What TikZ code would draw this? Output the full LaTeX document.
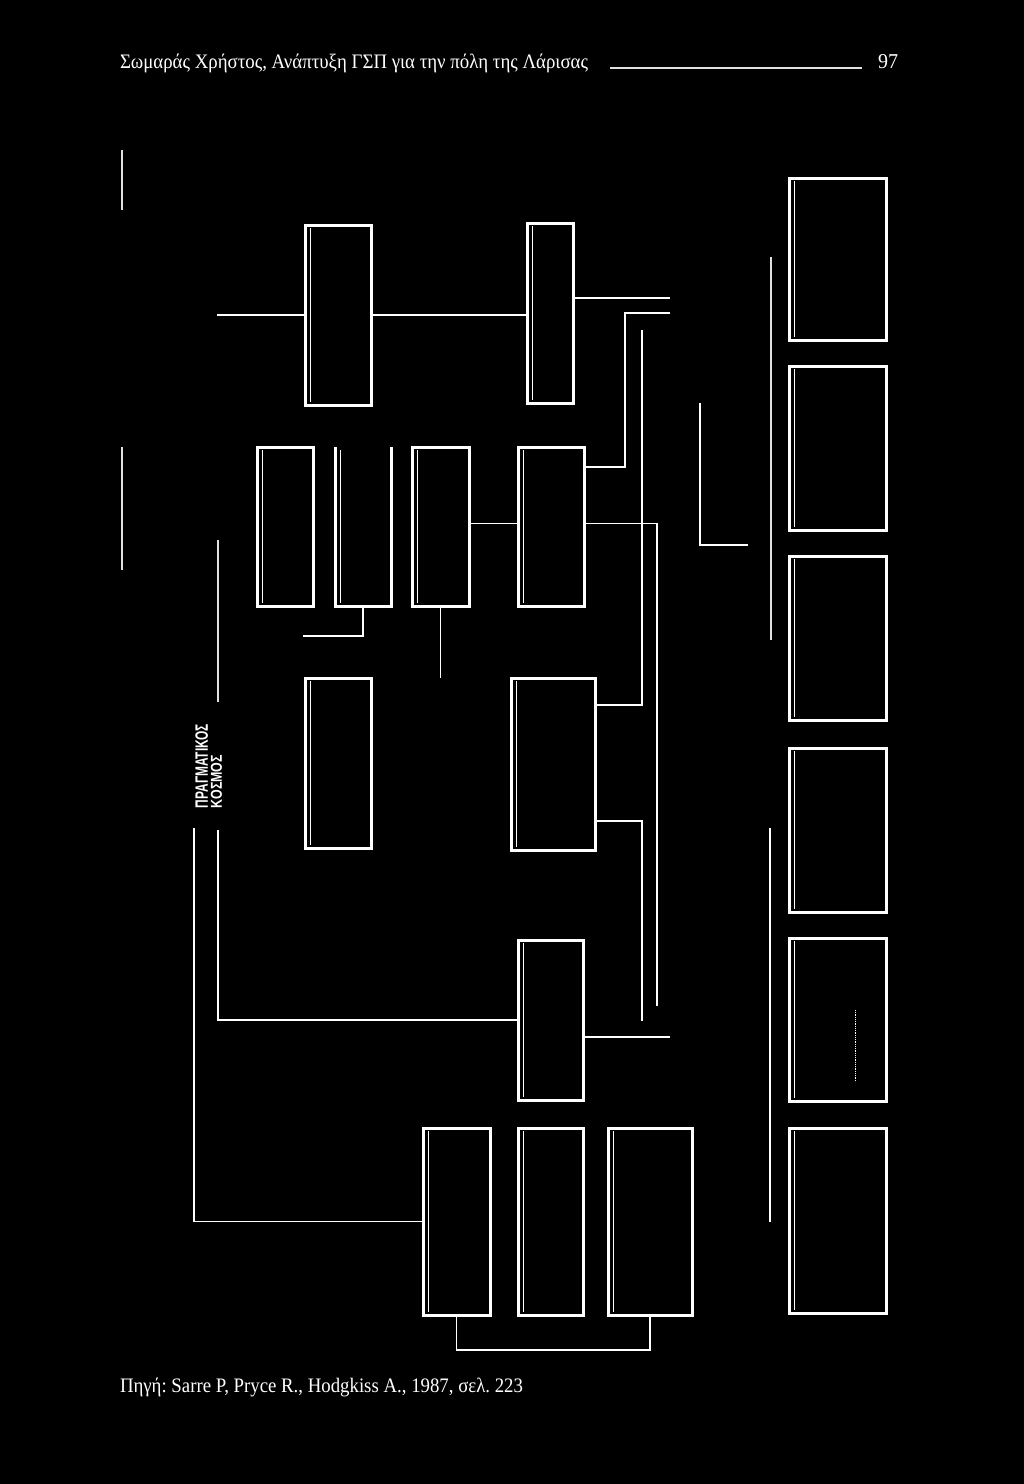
\documentclass[tikz,border=0pt]{standalone}
\usepackage{fontspec}
\setmainfont{Liberation Serif}
\newfontfamily\labelsans{Liberation Sans}
\usepackage{graphicx}
\frenchspacing
\begin{document}
\begin{tikzpicture}[x=1pt,y=-1pt,
  box/.style={draw=white, line width=3pt, inner sep=0pt, outer sep=0pt, anchor=north west,
    path picture={\draw[white,line width=1pt]
      ([xshift=5pt,yshift=-3pt]path picture bounding box.north west) --
      ([xshift=5pt,yshift=3pt]path picture bounding box.south west);}},
  openbox/.style={inner sep=0pt, outer sep=0pt, anchor=north west},
  conn/.style={draw=white, line width=1.5pt},
  faint/.style={draw=white!88!black, line width=1.1pt},
  txt/.style={text=white, inner sep=0pt, outer sep=0pt}
]
\useasboundingbox (0,0) rectangle (1024,1484);
\fill[black] (0,0) rectangle (1024,1484);

% header and footer
\node[txt, anchor=base west] (head) at (120,68) {\resizebox{468pt}{14.5pt}{\frenchspacing Σωμαράς Χρήστος, Ανάπτυξη ΓΣΠ για την πόλη της Λάρισας}};
\coordinate (rule1) at (610,68);
\coordinate (rule2) at (862,68);
\draw[faint] (rule1) -- (rule2);
\node[txt, anchor=base west] (page) at (878,68) {\resizebox{20pt}{14pt}{97}};
\node[txt, anchor=base west] (foot) at (120,1392) {\resizebox{403pt}{14.5pt}{\frenchspacing Πηγή: Sarre P, Pryce R., Hodgkiss A., 1987, σελ. 223}};

% rotated label
\node[txt, rotate=90, anchor=south west] (lab1) at (208,808) {\resizebox{84pt}{12.5pt}{\labelsans\bfseries ΠΡΑΓΜΑΤΙΚΟΣ}};
\node[txt, rotate=90, anchor=south west] (lab2) at (222,808) {\resizebox{53pt}{11pt}{\labelsans\bfseries ΚΟΣΜΟΣ}};

% boxes
\node[box, minimum width=66pt, minimum height=180pt] (A) at (305,225) {};
\node[box, minimum width=46pt, minimum height=180pt] (B) at (527,223) {};
\node[box, minimum width=56pt, minimum height=159pt] (C1) at (257,447) {};
\node[openbox, minimum width=56pt, minimum height=159pt] (C2) at (335,447) {};
\draw[white, line width=3pt] (C2.north west) -- (C2.south west) -- (C2.south east) -- (C2.north east);
\draw[white, line width=1pt] ([xshift=5pt,yshift=-3pt]C2.north west) -- ([xshift=5pt,yshift=3pt]C2.south west);
\node[box, minimum width=57pt, minimum height=159pt] (C3) at (412,447) {};
\node[box, minimum width=66pt, minimum height=159pt] (D) at (518,447) {};
\node[box, minimum width=66pt, minimum height=170pt] (E) at (305,678) {};
\node[box, minimum width=84pt, minimum height=172pt] (F) at (511,678) {};
\node[box, minimum width=65pt, minimum height=160pt] (G) at (518,940) {};
\node[box, minimum width=67pt, minimum height=187pt] (H1) at (423,1128) {};
\node[box, minimum width=65pt, minimum height=187pt] (H2) at (518,1128) {};
\node[box, minimum width=84pt, minimum height=187pt] (H3) at (608,1128) {};
\node[box, minimum width=97pt, minimum height=162pt] (R1) at (789,178) {};
\node[box, minimum width=97pt, minimum height=164pt] (R2) at (789,366) {};
\node[box, minimum width=97pt, minimum height=164pt] (R3) at (789,556) {};
\node[box, minimum width=97pt, minimum height=164pt] (R4) at (789,748) {};
\node[box, minimum width=97pt, minimum height=163pt] (R5) at (789,938) {};
\node[box, minimum width=97pt, minimum height=185pt] (R6) at (789,1128) {};

% mark inside R5
\coordinate (m1) at (855,1010);
\coordinate (m2) at (855,1082);
\draw[white, line width=0.8pt, densely dotted] (m1) -- (m2);

% connectors
\coordinate (a0) at (217,315);
\draw[conn] (a0) -- (A.west);
\draw[conn] (A.east) -- (A.east -| B.west);
\coordinate (b1) at (670,298);
\draw[conn] (B.east |- b1) -- (b1);
\coordinate (d1) at (670,313);
\draw[conn] (d1) -- (625,313) |- ([yshift=-20pt]D.north east);
\coordinate (f1) at (642,330);
\draw[conn] (f1) |- ([yshift=-27pt]F.north east);
\coordinate (f2) at (642,1021);
\draw[conn] ([yshift=29pt]F.south east) -| (f2);
\coordinate (d2) at (657,1006);
\draw[conn] ([yshift=3pt]D.east) -| (d2);
\draw[conn] ([yshift=3pt]C3.east) -- ([yshift=3pt]D.west);
\coordinate (g1) at (670,1037);
\draw[conn] (G.east |- g1) -- (g1);
\coordinate (c2a) at (303,636);
\draw[conn] (C2.south) |- (c2a);
\coordinate (c3a) at (440,678);
\draw[conn] (C3.south) -- (C3.south |- c3a);
\coordinate (g0) at (218,830);
\draw[conn] (g0) |- (G.west);
\coordinate (h0) at (194,828);
\draw[conn] (h0) |- (H1.west);
\draw[conn] (H1.south) -- ++(0,35) -| (H3.south);
\coordinate (t1) at (700,403);
\coordinate (t2) at (748,545);
\draw[conn] (t1) |- (t2);

% free vertical lines
\coordinate (v1a) at (122,150); \coordinate (v1b) at (122,210);
\draw[faint] (v1a) -- (v1b);
\coordinate (v2a) at (122,447); \coordinate (v2b) at (122,570);
\draw[faint] (v2a) -- (v2b);
\coordinate (v3a) at (218,540); \coordinate (v3b) at (218,702);
\draw[faint] (v3a) -- (v3b);
\coordinate (v4a) at (771,257); \coordinate (v4b) at (771,640);
\draw[faint] (v4a) -- (v4b);
\coordinate (v5a) at (770,828); \coordinate (v5b) at (770,1222);
\draw[conn] (v5a) -- (v5b);
\end{tikzpicture}
\end{document}
